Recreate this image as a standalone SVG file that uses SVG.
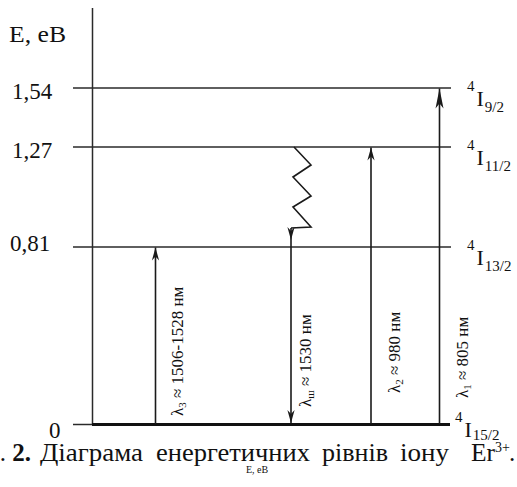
<svg xmlns="http://www.w3.org/2000/svg" width="517" height="487" viewBox="0 0 517 487">
  <style>
    .lvl { stroke: #2a2a2a; stroke-width: 1.5; fill: none; }
    .arr { stroke: #1a1a1a; stroke-width: 1.6; fill: none; }
    text { font-family: "Liberation Serif", "Times New Roman", serif; fill: #111; }
    .val { font-size: 23px; }
    .term { font-size: 22px; }
    .sub { font-size: 15px; }
    .lam { font-size: 17px; }
  </style>
  <defs>
    <marker id="head" viewBox="-14 -5 16 10" markerWidth="16" markerHeight="10" refX="0" refY="0" orient="auto" markerUnits="userSpaceOnUse">
      <path d="M0,0 L-13,-3.6 L-9,0 L-13,3.6 Z" fill="#1a1a1a"/>
    </marker>
    <marker id="headLong" viewBox="-22 -5 24 10" markerWidth="24" markerHeight="10" refX="0" refY="0" orient="auto" markerUnits="userSpaceOnUse">
      <path d="M0,0 L-20,-4 L-15,0 L-20,4 Z" fill="#1a1a1a"/>
    </marker>
  </defs>

  <rect width="517" height="487" fill="#fff"/>

  <!-- energy axis -->
  <g id="axis">
    <line x1="92.5" y1="8" x2="92.5" y2="424" class="lvl"/>
    <text class="val" x="9" y="42" textLength="57" lengthAdjust="spacingAndGlyphs">E, eB</text>
  </g>

  <!-- energy levels -->
  <g id="level-154">
    <line x1="73" y1="88" x2="451" y2="88" class="lvl"/>
    <text class="val" x="12" y="99">1,54</text>
    <text class="term" x="467" y="106"><tspan class="sub" dy="-15">4</tspan><tspan dx="2" dy="15">I</tspan><tspan class="sub" dx="1" dy="6">9/2</tspan></text>
  </g>
  <g id="level-127">
    <line x1="73" y1="147" x2="451" y2="147" class="lvl"/>
    <text class="val" x="12" y="158">1,27</text>
    <text class="term" x="467" y="165"><tspan class="sub" dy="-15">4</tspan><tspan dx="2" dy="15">I</tspan><tspan class="sub" dx="1" dy="6">11/2</tspan></text>
  </g>
  <g id="level-081">
    <line x1="73" y1="247" x2="451" y2="247" class="lvl"/>
    <text class="val" x="10" y="251">0,81</text>
    <text class="term" x="467" y="265"><tspan class="sub" dy="-15">4</tspan><tspan dx="2" dy="15">I</tspan><tspan class="sub" dx="1" dy="6">13/2</tspan></text>
  </g>
  <g id="level-0">
    <line x1="73" y1="424.5" x2="93" y2="424.5" class="lvl"/>
    <line x1="92" y1="424.5" x2="450" y2="424.5" stroke="#111" stroke-width="3"/>
    <text class="val" x="49" y="438">0</text>
    <text class="term" x="455" y="437"><tspan class="sub" dy="-15">4</tspan><tspan dx="2" dy="15">I</tspan><tspan class="sub" dx="1" dy="3">15/2</tspan></text>
  </g>

  <!-- transitions -->
  <g id="connectors">
    <line x1="155.5" y1="424" x2="155.5" y2="247.5" class="arr" marker-end="url(#head)"/>
    <polyline points="294,147 311,165 293,177 311,196 293,207 311,227 291,228" class="arr"/>
    <line x1="291" y1="228" x2="291" y2="240" class="arr" marker-end="url(#head)"/>
    <line x1="291" y1="240" x2="291" y2="423" class="arr" marker-end="url(#head)"/>
    <line x1="371" y1="424" x2="371" y2="147.5" class="arr" marker-end="url(#head)"/>
    <line x1="439.5" y1="424" x2="439.5" y2="88.5" class="arr" marker-end="url(#headLong)"/>
  </g>

  <!-- transition labels -->
  <g id="label-l3">
    <text class="lam" transform="translate(183,416) rotate(-90)">λ<tspan font-size="11" dy="3">3</tspan><tspan dy="-3"> ≈  1506-1528 нм</tspan></text>
  </g>
  <g id="label-lsh">
    <text class="lam" transform="translate(311,407) rotate(-90)">λ<tspan font-size="11" dy="3">ш</tspan><tspan dy="-3"> ≈ 1530 нм</tspan></text>
  </g>
  <g id="label-l2">
    <text class="lam" transform="translate(400,393) rotate(-90)">λ<tspan font-size="11" dy="3">2</tspan><tspan dy="-3"> ≈ 980 нм</tspan></text>
  </g>
  <g id="label-l1">
    <text class="lam" transform="translate(468,398) rotate(-90)">λ<tspan font-size="11" dy="3">1</tspan><tspan dy="-3"> ≈ 805 нм</tspan></text>
  </g>

  <!-- caption -->
  <g id="caption">
    <text font-size="25" x="31" y="461" text-anchor="end">с. <tspan font-weight="bold">2.</tspan></text>
    <text font-size="25" y="461"><tspan x="40" textLength="103" lengthAdjust="spacingAndGlyphs">Діаграма</tspan><tspan x="156" textLength="154" lengthAdjust="spacingAndGlyphs">енергетичних</tspan><tspan x="322" textLength="66" lengthAdjust="spacingAndGlyphs">рівнів</tspan><tspan x="400" textLength="49" lengthAdjust="spacingAndGlyphs">іону</tspan><tspan x="471" textLength="24" lengthAdjust="spacingAndGlyphs">Er</tspan><tspan x="495" font-size="14" dy="-9">3+</tspan><tspan x="509" dy="9">.</tspan></text>
    <text font-size="10" x="257" y="473" text-anchor="middle" fill="#555">E, eB</text>
  </g>
</svg>
